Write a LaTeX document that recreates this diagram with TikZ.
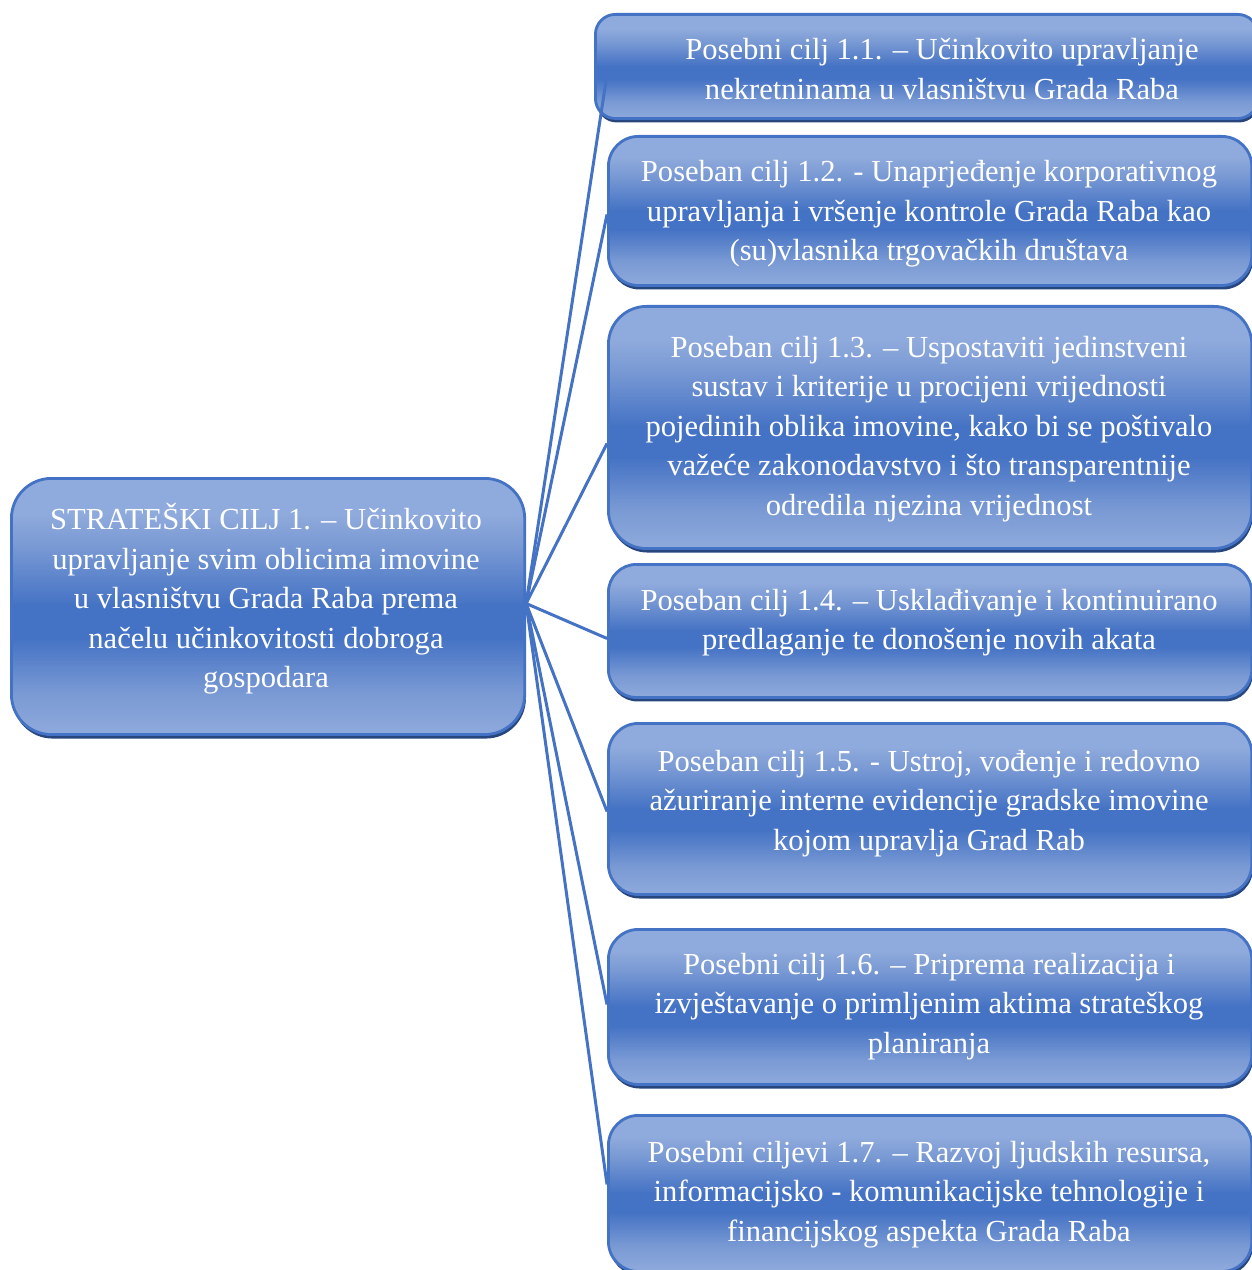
\documentclass[tikz,border=0pt]{standalone}
\usepackage{fontspec}
\setmainfont{Liberation Serif}
\usetikzlibrary{shadows,calc}
\definecolor{lt}{HTML}{8FAADC}
\definecolor{lt2}{HTML}{7A9AD4}
\definecolor{dk}{HTML}{4472C4}
\definecolor{bordc}{HTML}{4472C4}
\definecolor{shadc}{HTML}{27467E}
\pgfdeclareverticalshading{boxshade}{100bp}{color(0bp)=(lt); color(25bp)=(lt); color(33bp)=(lt2); color(44bp)=(dk); color(50bp)=(dk); color(62bp)=(lt2); color(68bp)=(lt); color(75bp)=(lt); color(100bp)=(lt)}
\tikzset{
  goalbox/.style={draw=bordc, line width=0.8pt, shading=boxshade, rounded corners=#1,
    inner sep=0pt, anchor=north west,
    drop shadow={shadow xshift=0.012cm, shadow yshift=-0.04cm, fill=shadc, opacity=1}},
  goalbox/.default=0.3cm,
  goaltext/.style={text=white, align=center, inner sep=0pt,
    font=\fontsize{8.7}{11.24}\selectfont},
  conn/.style={draw=bordc, line width=0.85pt}
}
\begin{document}
\begin{tikzpicture}[x=0.01cm, y=-0.01cm]
\useasboundingbox (0,0) rectangle (1252,1270);
% boxes
\node[goalbox=0.4cm, minimum width=5.13cm, minimum height=2.56cm] (main) at (10,477) {};
\node[goalbox=0.2cm, minimum width=6.62cm, minimum height=1.04cm] (b1) at (594,13) {};
\node[goalbox=0.3cm, minimum width=6.43cm, minimum height=1.49cm] (b2) at (607,135) {};
\node[goalbox=0.38cm, minimum width=6.43cm, minimum height=2.42cm] (b3) at (607,305) {};
\node[goalbox=0.28cm, minimum width=6.43cm, minimum height=1.33cm] (b4) at (607,563) {};
\node[goalbox=0.3cm, minimum width=6.43cm, minimum height=1.71cm] (b5) at (607,722) {};
\node[goalbox=0.3cm, minimum width=6.43cm, minimum height=1.55cm] (b6) at (607,928) {};
\node[goalbox=0.3cm, minimum width=6.43cm, minimum height=1.56cm] (b7) at (607,1114) {};
% connectors
\draw[conn] ([yshift=0.03cm]main.east) -- ([xshift=0.13cm,yshift=-0.08cm]b1.west);
\draw[conn] ([yshift=0.03cm]main.east) -- ([yshift=-0.035cm]b2.west);
\draw[conn] ([yshift=0.03cm]main.east) -- ([yshift=-0.16cm]b3.west);
\draw[conn] ([yshift=0.03cm]main.east) -- ([yshift=-0.075cm]b4.west);
\draw[conn] ([yshift=0.03cm]main.east) -- ([yshift=-0.025cm]b5.west);
\draw[conn] ([yshift=0.03cm]main.east) -- ([yshift=0.025cm]b6.west);
\draw[conn] ([yshift=0.03cm]main.east) -- ([yshift=0.09cm]b7.west);
% texts
\node[goaltext] (tm) at (266,599) {STRATEŠKI CILJ 1. – Učinkovito\\upravljanje svim oblicima imovine\\u vlasništvu Grada Raba prema\\načelu učinkovitosti dobroga\\gospodara};
\node[goaltext] (t1) at (942,69) {Posebni cilj 1.1. – Učinkovito upravljanje\\nekretninama u vlasništvu Grada Raba};
\node[goaltext] (t2) at (929,214) {Poseban cilj 1.2. - Unaprjeđenje korporativnog\\upravljanja i vršenje kontrole Grada Raba kao\\(su)vlasnika trgovačkih društava};
\node[goaltext] (t3) at (929,429) {Poseban cilj 1.3. – Uspostaviti jedinstveni\\sustav i kriterije u procijeni vrijednosti\\pojedinih oblika imovine, kako bi se poštivalo\\važeće zakonodavstvo i što transparentnije\\odredila njezina vrijednost};
\node[goaltext] (t4) at (929,622.5) {Poseban cilj 1.4. – Usklađivanje i kontinuirano\\predlaganje te donošenje novih akata};
\node[goaltext] (t5) at (929,803.5) {Poseban cilj 1.5. - Ustroj, vođenje i redovno\\ažuriranje interne evidencije gradske imovine\\kojom upravlja Grad Rab};
\node[goaltext] (t6) at (929,1006.5) {Posebni cilj 1.6. – Priprema realizacija i\\izvještavanje o primljenim aktima strateškog\\planiranja};
\node[goaltext] (t7) at (929,1194.5) {Posebni ciljevi 1.7. – Razvoj ljudskih resursa,\\informacijsko - komunikacijske tehnologije i\\financijskog aspekta Grada Raba};
\end{tikzpicture}
\end{document}
